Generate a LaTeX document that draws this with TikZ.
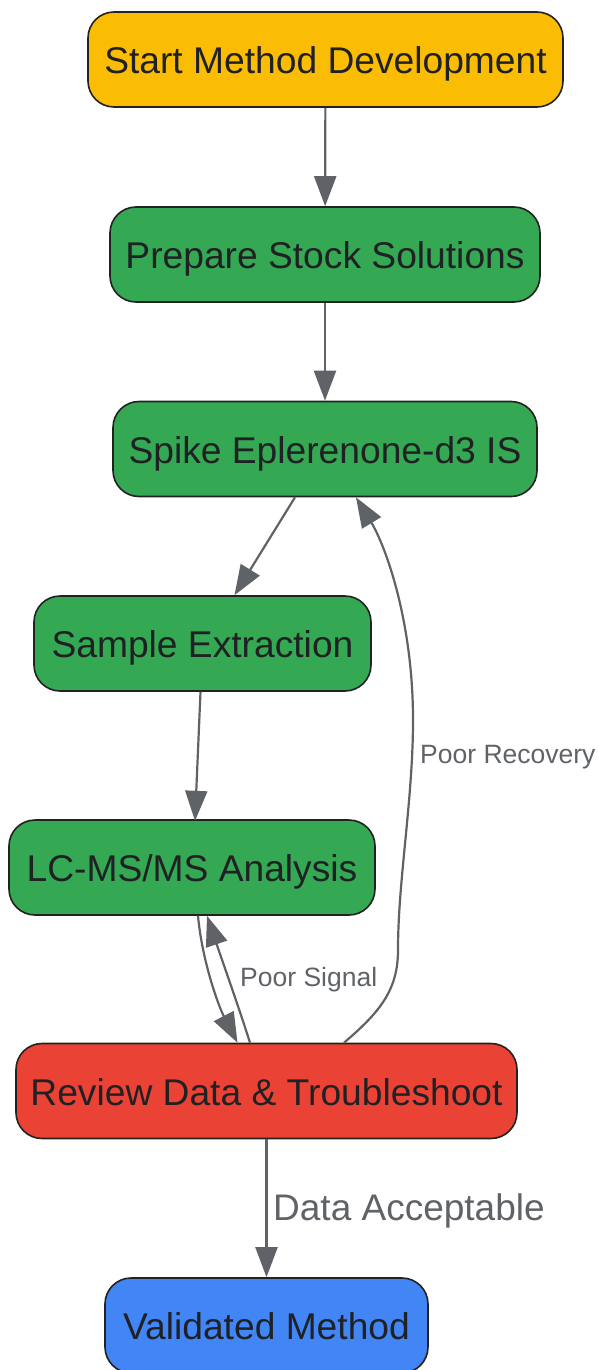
\documentclass[tikz,border=0pt]{standalone}
\usepackage{fontspec}
\setmainfont{Liberation Sans}
\usetikzlibrary{arrows.meta,calc}
\definecolor{cyellow}{HTML}{FBBC04}
\definecolor{cgreen}{HTML}{34A853}
\definecolor{cred}{HTML}{EA4335}
\definecolor{cblue}{HTML}{4285F4}
\definecolor{cedge}{HTML}{5F6368}
\definecolor{ctext}{HTML}{202124}
\definecolor{cborder}{HTML}{222222}
\tikzset{
  box/.style={draw=cborder, line width=1.6pt, rounded corners=26pt, minimum height=95pt,
    text=ctext, font=\fontsize{37.2pt}{40pt}\selectfont, inner sep=0pt,
    text height=28pt, text depth=0pt},
  conn/.style={draw=cedge, line width=2.2pt, -{Triangle[length=30pt,width=22pt]}},
  elabel/.style={text=cedge, font=\fontsize{26.5pt}{30pt}\selectfont, inner sep=0pt, anchor=west},
  biglabel/.style={text=cedge, font=\fontsize{37pt}{40pt}\selectfont, inner sep=0pt, anchor=west},
}
\begin{document}
\begin{tikzpicture}[x=1pt,y=-1pt]
\useasboundingbox (0,0) rectangle (598,1370);
\node[box, fill=cyellow, minimum width=475pt] (start) at (325.5,59.5) {Start Method Development};
\node[box, fill=cgreen, minimum width=430pt] (prep) at (325,254.5) {Prepare Stock Solutions};
\node[box, fill=cgreen, minimum width=424pt] (spike) at (325,449) {Spike Eplerenone-d3 IS};
\node[box, fill=cgreen, minimum width=337pt] (extr) at (202.5,643.5) {Sample Extraction};
\node[box, fill=cgreen, minimum width=366pt] (lcms) at (192,867.5) {LC-MS/MS Analysis};
\node[box, fill=cred, minimum width=501pt] (review) at (266.5,1091) {Review Data \& Troubleshoot};
\node[box, fill=cblue, minimum width=323pt] (valid) at (266.5,1325.5) {Validated Method};

\draw[conn] (start) -- (prep);
\draw[conn] (prep) -- (spike);
\draw[conn] ($(spike.south)+(-30,0)$) -- ($(extr.north)+(32,0)$);
\draw[conn] ($(extr.south)+(-2,0)$) -- ($(lcms.south)+(3,-95)$);
\draw[conn] ($(lcms.south)+(6,0)$) .. controls (202,960) and (218,1005) .. ($(review.north)+(-29,0)$);
\draw[conn] ($(review.north)+(-16.5,0)$) .. controls (238,1005) and (222,960) .. ($(lcms.south)+(15,0)$);
\draw[conn] ($(review.north)+(77.5,0)$) .. controls (380,1012) and (398,990) .. (398,950)
   .. controls (398,880) and (413,800) .. (413,720)
   .. controls (413,620) and (385,545) .. ($(spike.south)+(31,0)$);
\draw[conn] (review) -- (valid);

\node[elabel] (lrec) at (420,757) {Poor Recovery};
\node[elabel] (lsig) at (240,980) {Poor Signal};
\node[biglabel] (lacc) at (273,1211) {Data Acceptable};
\end{tikzpicture}
\end{document}
